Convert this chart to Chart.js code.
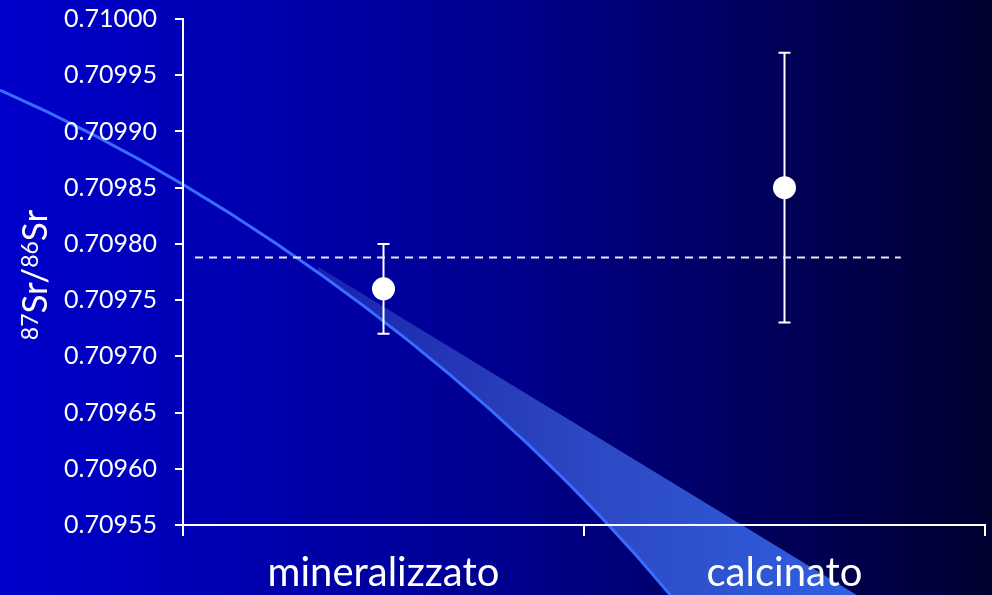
<!DOCTYPE html>
<html>
<head>
<meta charset="utf-8">
<script src="https://cdn.jsdelivr.net/npm/chart.js@4/dist/chart.umd.min.js"></script>
<style>
  html, body { margin: 0; padding: 0; }
  body {
    width: 992px; height: 595px; overflow: hidden;
    background: linear-gradient(to right, #0000cc 0%, #0000b0 25%, #000090 50%, #000060 75%, #000030 100%);
  }
  #wrap { position: relative; width: 992px; height: 595px; }
</style>
</head>
<body>
<div id="wrap"><canvas id="c" width="992" height="595"></canvas></div>
<script>
// Sample categories and measured 87Sr/86Sr ratios with their uncertainty ranges
const categories = ['mineralizzato', 'calcinato'];
const ratioMeans = [0.70976, 0.70985];
const ratioLow = [0.70972, 0.70973];
const ratioHigh = [0.70980, 0.70997];

// Reference ratio drawn as a dashed level, and its extent along a 0..2 helper axis
const referenceRatio = 0.709788;
const referenceExtent = [0.03, 1.79];

// Y axis ticks
const yTickValues = [0.70955, 0.70960, 0.70965, 0.70970, 0.70975, 0.70980, 0.70985, 0.70990, 0.70995, 0.71000];

const FONT = 'Lato, "Open Sans", "DejaVu Sans", sans-serif';

// Decorative swoosh behind the plot
const swooshPlugin = {
  id: 'swoosh',
  beforeDraw(chart) {
    const ctx = chart.ctx;
    ctx.save();
    const g = ctx.createLinearGradient(320, 0, 860, 0);
    g.addColorStop(0, 'rgba(70,100,200,0.35)');
    g.addColorStop(0.5, 'rgba(55,90,215,0.8)');
    g.addColorStop(1, 'rgba(48,96,228,1)');
    // ribbon between the curve and a straight upper edge
    ctx.save();
    ctx.beginPath();
    ctx.rect(318, 0, 700, 600);
    ctx.clip();
    ctx.beginPath();
    ctx.moveTo(320, 268);
    ctx.lineTo(860, 597);
    ctx.lineTo(672, 597);
    ctx.bezierCurveTo(500, 390, 250, 200, 0, 90);
    ctx.closePath();
    ctx.fillStyle = g;
    ctx.fill();
    ctx.restore();
    // bright curve
    ctx.beginPath();
    ctx.moveTo(0, 90);
    ctx.bezierCurveTo(250, 200, 500, 390, 672, 597);
    ctx.strokeStyle = '#3a6cff';
    ctx.lineWidth = 3;
    ctx.stroke();
    ctx.restore();
  }
};

// Vertical error bars with caps, read from ratioLow / ratioHigh
const errorBarPlugin = {
  id: 'errorBars',
  beforeDatasetsDraw(chart) {
    const ctx = chart.ctx;
    const xs = chart.scales.x, ys = chart.scales.y;
    ctx.save();
    ctx.strokeStyle = '#ffffff';
    ctx.lineWidth = 2;
    categories.forEach((c, i) => {
      const x = xs.getPixelForValue(i);
      const yl = ys.getPixelForValue(ratioLow[i]);
      const yh = ys.getPixelForValue(ratioHigh[i]);
      ctx.beginPath();
      ctx.moveTo(x, yl); ctx.lineTo(x, yh);
      ctx.moveTo(x - 6, yl); ctx.lineTo(x + 6, yl);
      ctx.moveTo(x - 6, yh); ctx.lineTo(x + 6, yh);
      ctx.stroke();
    });
    ctx.restore();
  }
};

// Y axis title with superscript isotope masses
const yTitlePlugin = {
  id: 'yTitle',
  afterDraw(chart) {
    const ctx = chart.ctx;
    const area = chart.chartArea;
    const parts = [
      { t: '87', sup: true }, { t: 'Sr/', sup: false },
      { t: '86', sup: true }, { t: 'Sr', sup: false }
    ];
    const big = 'normal 35px ' + FONT, small = 'normal 23px ' + FONT;
    let total = 0;
    parts.forEach(p => { ctx.font = p.sup ? small : big; p.w = ctx.measureText(p.t).width; total += p.w; });
    ctx.save();
    ctx.translate(47, (area.top + area.bottom) / 2 + 3);
    ctx.rotate(-Math.PI / 2);
    ctx.fillStyle = '#ffffff';
    ctx.textBaseline = 'alphabetic';
    let x = -total / 2;
    parts.forEach(p => {
      ctx.font = p.sup ? small : big;
      ctx.fillText(p.t, x, p.sup ? -9 : 0);
      x += p.w;
    });
    ctx.restore();
  }
};

new Chart(document.getElementById('c'), {
  type: 'line',
  data: {
    labels: categories,
    datasets: [
      {
        label: 'riferimento',
        data: referenceExtent.map(v => ({ x: v, y: referenceRatio })),
        xAxisID: 'x2',
        borderColor: '#e6e6f0',
        borderWidth: 2,
        borderDash: [8, 6],
        pointRadius: 0,
        fill: false
      },
      {
        label: '87Sr/86Sr',
        data: ratioMeans,
        xAxisID: 'x',
        showLine: false,
        pointRadius: 11.5,
        pointHoverRadius: 11.5,
        pointBackgroundColor: '#ffffff',
        pointBorderColor: '#ffffff',
        pointBorderWidth: 0
      }
    ]
  },
  options: {
    responsive: false,
    animation: false,
    layout: { autoPadding: false, padding: { top: 0, right: 7, left: 0, bottom: 0 } },
    plugins: { legend: { display: false }, tooltip: { enabled: false } },
    scales: {
      x: {
        type: 'category',
        offset: true,
        border: { display: true, color: '#ffffff', width: 2 },
        grid: { offset: true, drawOnChartArea: false, drawTicks: true, tickLength: 11, color: '#ffffff', lineWidth: 2 },
        ticks: { color: '#ffffff', font: { family: FONT, size: 40 }, padding: 13, maxRotation: 0 },
        afterFit(s) { s.height = 70; }
      },
      x2: {
        type: 'linear',
        display: false,
        min: 0,
        max: 2
      },
      y: {
        min: yTickValues[0],
        max: yTickValues[yTickValues.length - 1],
        afterBuildTicks(axis) { axis.ticks = yTickValues.map(v => ({ value: v })); },
        border: { display: true, color: '#ffffff', width: 2 },
        grid: { drawOnChartArea: false, drawTicks: true, tickLength: 8, color: '#ffffff', lineWidth: 2 },
        ticks: {
          color: '#ffffff',
          font: { family: FONT, size: 25 },
          padding: 18,
          callback: v => Number(v).toFixed(5)
        },
        afterFit(s) { s.width = 183; s.paddingTop = 19; s.paddingBottom = 0; }
      }
    }
  },
  plugins: [swooshPlugin, errorBarPlugin, yTitlePlugin]
});
</script>
</body>
</html>
